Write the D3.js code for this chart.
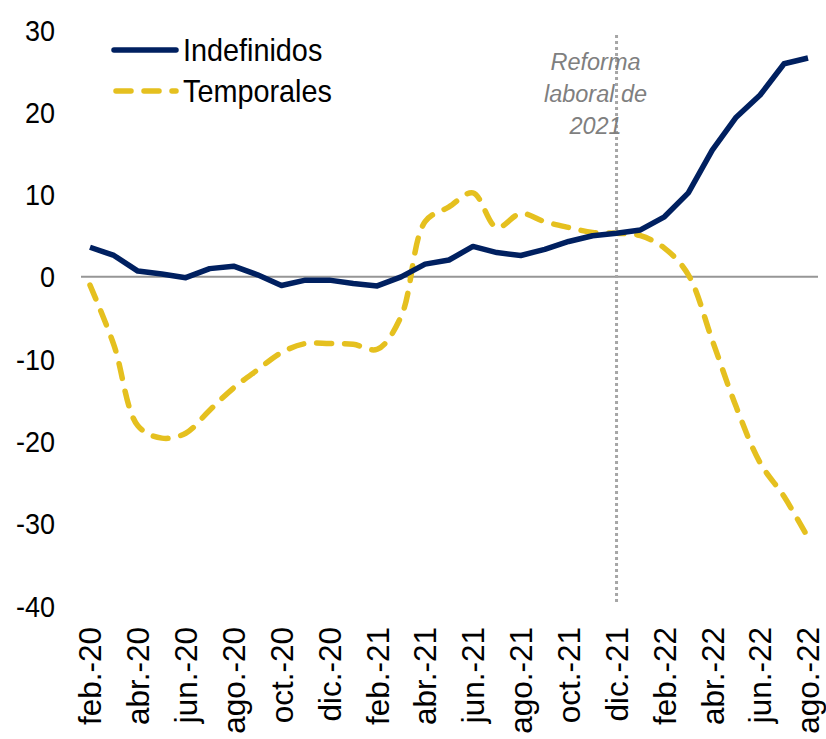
<!DOCTYPE html>
<html>
<head>
<meta charset="utf-8">
<script src="https://cdn.jsdelivr.net/npm/d3@7"></script>
<style>
  body { margin: 0; background: #fff; }
  text { font-family: "Liberation Sans", Arial, sans-serif; }
</style>
</head>
<body>
<div id="chart"></div>
<script>
// months feb-20 .. ago-22
const months = ["feb.-20","mar.-20","abr.-20","may.-20","jun.-20","jul.-20","ago.-20","sep.-20","oct.-20","nov.-20","dic.-20",
  "ene.-21","feb.-21","mar.-21","abr.-21","may.-21","jun.-21","jul.-21","ago.-21","sep.-21","oct.-21","nov.-21","dic.-21",
  "ene.-22","feb.-22","mar.-22","abr.-22","may.-22","jun.-22","jul.-22","ago.-22"];

const indefinidos = [3.6, 2.6, 0.7, 0.35, -0.1, 1.0, 1.3, 0.25, -1.05, -0.4, -0.4,
  -0.8, -1.1, 0.0, 1.55, 2.05, 3.7, 2.95, 2.6, 3.35, 4.3, 5.0, 5.3,
  5.7, 7.3, 10.2, 15.4, 19.4, 22.1, 25.9, 26.6];

const temporales = [-1.0, -8.3, -18.1, -19.6, -19.0, -16.2, -13.5, -11.3, -9.2, -8.1, -8.1,
  -8.2, -8.8, -4.8, 6.7, 8.5, 10.2, 6.0, 7.7, 6.7, 6.0, 5.4, 5.3,
  5.0, 3.5, 0.25, -7.7, -15.8, -22.6, -26.7, -31.7];

const yTicks = [30, 20, 10, 0, -10, -20, -30, -40];
const reformMonth = "dic.-21";
const reformText = ["Reforma", "laboral de", "2021"];

const width = 826, height = 739;
const navy = "#002060", gold = "#E5C01F";

const svg = d3.select("#chart").append("svg")
  .attr("width", width)
  .attr("height", height);

const x = d3.scalePoint()
  .domain(months)
  .range([90, 808]);

const y = d3.scaleLinear()
  .domain([-40, 30])
  .range([606, 30]);

// y axis labels (text in the original is a bit narrow, so squeeze it)
svg.append("g")
  .selectAll("text")
  .data(yTicks)
  .join("text")
    .attr("transform", d => `translate(55,${y(d)}) scale(0.9,1)`)
    .attr("dy", "0.35em")
    .attr("text-anchor", "end")
    .attr("font-size", 30)
    .attr("fill", "#000")
    .text(d => d);

// x axis labels, every second month
svg.append("g")
  .selectAll("text")
  .data(months.filter((d, i) => i % 2 === 0))
  .join("text")
    .attr("transform", d => `translate(${x(d)},627) rotate(-90)`)
    .attr("dy", "0.36em")
    .attr("text-anchor", "end")
    .attr("font-size", 31.5)
    .attr("fill", "#000")
    .text(d => d);

// zero line
svg.append("line")
  .attr("x1", 81).attr("x2", 818)
  .attr("y1", y(0)).attr("y2", y(0))
  .attr("stroke", "#969696")
  .attr("stroke-width", 2);

// reforma laboral marker
svg.append("line")
  .attr("x1", x(reformMonth)).attr("x2", x(reformMonth))
  .attr("y1", 35).attr("y2", 604)
  .attr("stroke", "#a6a6a6")
  .attr("stroke-width", 3)
  .attr("stroke-dasharray", "3,3");

svg.append("g")
  .selectAll("text")
  .data(reformText)
  .join("text")
    .attr("x", x(reformMonth) - 21)
    .attr("y", (d, i) => 62 + i * 32)
    .attr("dy", "0.35em")
    .attr("text-anchor", "middle")
    .attr("font-size", 23.5)
    .attr("font-style", "italic")
    .attr("fill", "#7f7f7f")
    .text(d => d);

// lines
const lineT = d3.line()
  .x((d, i) => x(months[i]))
  .y(d => y(d))
  .curve(d3.curveCatmullRom.alpha(0.5));

const lineI = d3.line()
  .x((d, i) => x(months[i]))
  .y(d => y(d));

svg.append("path")
  .datum(temporales)
  .attr("d", lineT)
  .attr("fill", "none")
  .attr("stroke", gold)
  .attr("stroke-width", 5.5)
  .attr("stroke-linecap", "round")
  .attr("stroke-dasharray", "15,13");

svg.append("path")
  .datum(indefinidos)
  .attr("d", lineI)
  .attr("fill", "none")
  .attr("stroke", navy)
  .attr("stroke-width", 5.5)
  .attr("stroke-linejoin", "round");

// legend
const legend = [
  {name: "Indefinidos", color: navy, dash: null, y: 50},
  {name: "Temporales", color: gold, dash: "15,13", y: 91}
];

const lg = svg.append("g");
lg.selectAll("line")
  .data(legend)
  .join("line")
    .attr("x1", d => d.dash ? 116 : 114).attr("x2", 176)
    .attr("y1", d => d.y).attr("y2", d => d.y)
    .attr("stroke", d => d.color)
    .attr("stroke-width", 5.5)
    .attr("stroke-linecap", "round")
    .attr("stroke-dasharray", d => d.dash);

lg.selectAll("text")
  .data(legend)
  .join("text")
    .attr("transform", d => `translate(183,${d.y}) scale(0.9,1)`)
    .attr("dy", "0.35em")
    .attr("font-size", 32)
    .attr("fill", "#000")
    .text(d => d.name);
</script>
</body>
</html>
